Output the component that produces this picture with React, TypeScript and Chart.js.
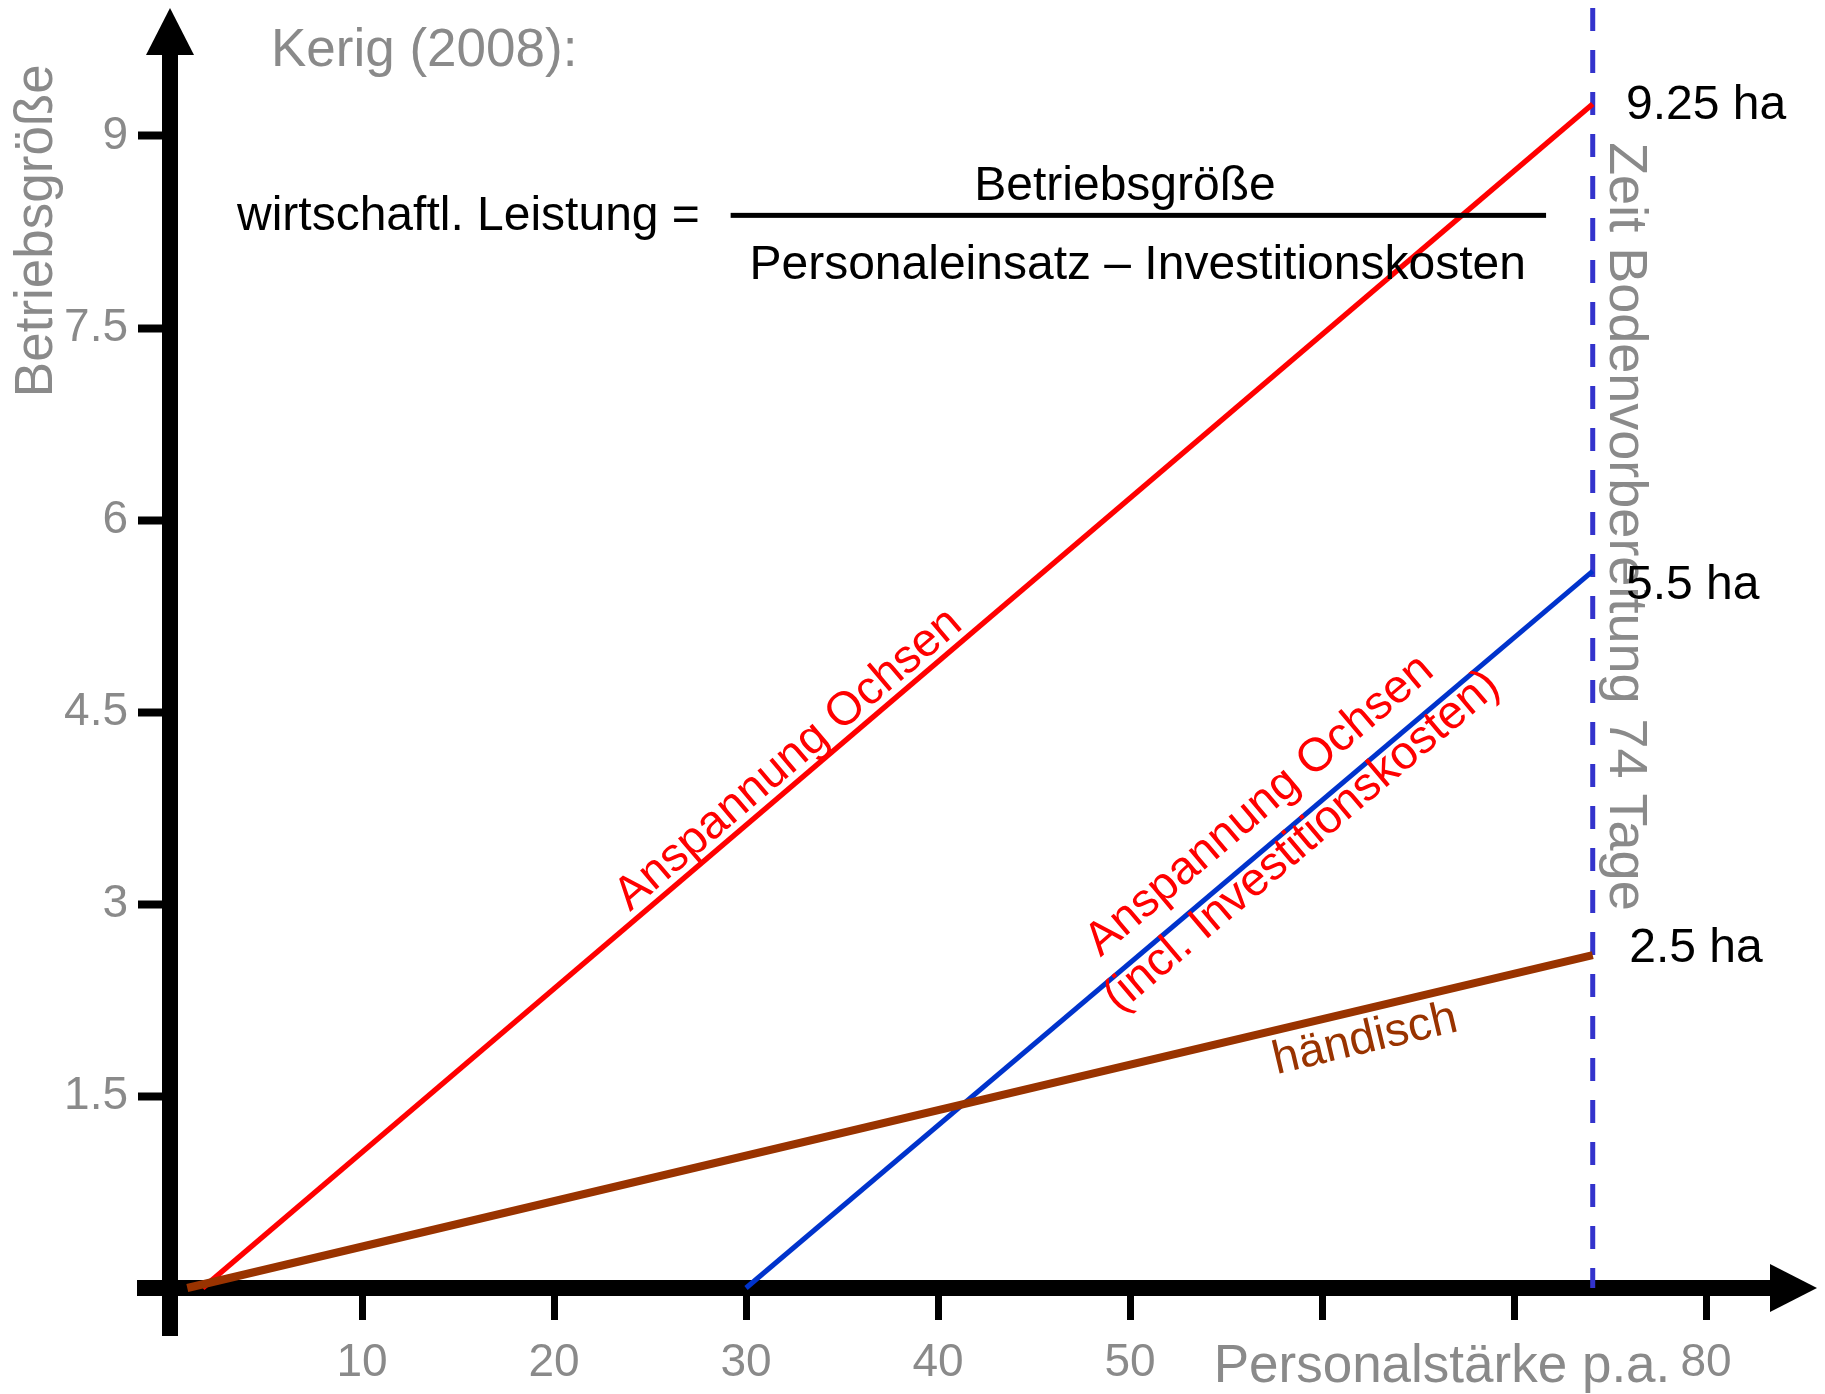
import { useEffect, useRef } from 'react';
import { Chart, registerables } from 'chart.js';

Chart.register(...registerables);

// ---- axis ranges & ticks ----
const X_MIN = 0;
const X_MAX = 85;
const Y_MIN = 0;
const Y_MAX = 10;
const xTickValues = [10, 20, 30, 40, 50, 60, 70, 80];
const xTickLabels = ['10', '20', '30', '40', '50', '', '', '80'];
const yTickValues = [1.5, 3, 4.5, 6, 7.5, 9];
const yTickLabels = ['1.5', '3', '4.5', '6', '7.5', '9'];

// ---- series ----
const haendischX = [0.9, 74.1];
const haendischY = [0, 2.6];
const ochsenX = [1.7, 74.1];
const ochsenY = [0, 9.25];
const investX = [30, 74.1];
const investY = [0, 5.6];
const grenzeX = [74.1, 74.1];
const grenzeY = [10, 0];

const endLabels = ['9.25 ha', '5.5 ha', '2.5 ha'];

const FONT = '"Liberation Sans", Arial, Helvetica, sans-serif';
const GRAY = '#8a8a8a';

const toPts = (xs: number[], ys: number[]) => xs.map((x, i) => ({ x, y: ys[i] }));

type Ann = {
  text: string;
  x: number;
  y: number;
  color: string;
  size: number;
  align: CanvasTextAlign;
  baseline: CanvasTextBaseline;
  rot?: number; // degrees
  along?: [number[], number[]]; // rotate along series
};

const annotations: Ann[] = [
  { text: 'Kerig (2008):', x: 5.26, y: 9.66, color: GRAY, size: 53, align: 'left', baseline: 'middle' },
  { text: 'wirtschaftl. Leistung =', x: 3.49, y: 8.37, color: '#000', size: 48, align: 'left', baseline: 'middle' },
  { text: 'Betriebsgröße', x: 49.74, y: 8.6, color: '#000', size: 48, align: 'center', baseline: 'middle' },
  { text: 'Personaleinsatz – Investitionskosten', x: 50.4, y: 7.99, color: '#000', size: 48, align: 'center', baseline: 'middle' },
  { text: 'Betriebsgröße', x: -6.93, y: 8.26, color: GRAY, size: 53, align: 'center', baseline: 'middle', rot: -90 },
  { text: 'Personalstärke p.a.', x: 66.25, y: -0.62, color: GRAY, size: 53, align: 'center', baseline: 'middle' },
  { text: 'Zeit Bodenvorbereitung 74 Tage', x: 75.8, y: 5.95, color: GRAY, size: 54, align: 'center', baseline: 'middle', rot: 90 },
  { text: 'Anspannung Ochsen', x: 32.66, y: 4.05, color: '#ff0000', size: 47, align: 'center', baseline: 'alphabetic', along: [ochsenX, ochsenY] },
  { text: 'Anspannung Ochsen', x: 57.19, y: 3.69, color: '#ff0000', size: 47, align: 'center', baseline: 'alphabetic', along: [investX, investY] },
  { text: '(incl. Investitionskosten)', x: 59.4, y: 3.41, color: '#ff0000', size: 47, align: 'center', baseline: 'alphabetic', along: [investX, investY] },
  { text: 'händisch', x: 62.4, y: 1.84, color: '#993300', size: 47, align: 'center', baseline: 'alphabetic', along: [haendischX, haendischY] },
  { text: endLabels[0], x: 75.83, y: 9.24, color: '#000', size: 48, align: 'left', baseline: 'middle' },
  { text: endLabels[1], x: 75.83, y: 5.49, color: '#000', size: 48, align: 'left', baseline: 'middle' },
  { text: endLabels[2], x: 76.0, y: 2.65, color: '#000', size: 48, align: 'left', baseline: 'middle' },
];

const axesPlugin = {
  id: 'arrowAxes',
  beforeDatasetsDraw(chart: any) {
    const { ctx, scales } = chart;
    const xs = scales.x;
    const ys = scales.y;
    const x0 = xs.getPixelForValue(0);
    const y0 = ys.getPixelForValue(0);
    const yTop = ys.getPixelForValue(Y_MAX);
    const xEnd = chart.chartArea.right + 15;
    const w = 16;
    const head = 47;
    const half = 24;
    ctx.save();
    ctx.fillStyle = '#000';
    // y axis
    ctx.fillRect(x0 - w / 2, yTop + head - 1, w, y0 + 48 - (yTop + head - 1));
    ctx.beginPath();
    ctx.moveTo(x0, yTop);
    ctx.lineTo(x0 + half, yTop + head);
    ctx.lineTo(x0 - half, yTop + head);
    ctx.closePath();
    ctx.fill();
    // x axis
    ctx.fillRect(x0 - 33, y0 - w / 2, xEnd - head + 1 - (x0 - 33), w);
    ctx.beginPath();
    ctx.moveTo(xEnd, y0);
    ctx.lineTo(xEnd - head, y0 - half);
    ctx.lineTo(xEnd - head, y0 + half);
    ctx.closePath();
    ctx.fill();
    ctx.restore();
  },
};

const textPlugin = {
  id: 'texts',
  afterDraw(chart: any) {
    const { ctx, scales } = chart;
    const px = (v: number) => scales.x.getPixelForValue(v);
    const py = (v: number) => scales.y.getPixelForValue(v);
    ctx.save();
    // fraction bar
    ctx.fillStyle = '#000';
    const fy = py(8.38);
    ctx.fillRect(px(29.2), fy - 2.5, px(71.67) - px(29.2), 5);
    for (const a of annotations) {
      ctx.save();
      ctx.translate(px(a.x), py(a.y));
      let ang = 0;
      if (a.rot !== undefined) ang = (a.rot * Math.PI) / 180;
      if (a.along) {
        const [sx, sy] = a.along;
        ang = Math.atan2(py(sy[1]) - py(sy[0]), px(sx[1]) - px(sx[0]));
      }
      ctx.rotate(ang);
      ctx.font = `${a.size}px ${FONT}`;
      ctx.fillStyle = a.color;
      ctx.textAlign = a.align;
      ctx.textBaseline = a.baseline;
      ctx.fillText(a.text, 0, 0);
      ctx.restore();
    }
    ctx.restore();
  },
};

export default function App() {
  const ref = useRef<HTMLCanvasElement | null>(null);
  useEffect(() => {
    if (!ref.current) return;
    const line = (data: any[], color: string, width: number, dash: number[] = []) => ({
      data,
      borderColor: color,
      backgroundColor: color,
      borderWidth: width,
      borderDash: dash,
      showLine: true,
      pointRadius: 0,
      pointHoverRadius: 0,
      fill: false,
      tension: 0,
      clip: false as any,
    });
    const chart = new Chart(ref.current, {
      type: 'scatter',
      data: {
        datasets: [
          line(toPts(haendischX, haendischY), '#993300', 8),
          line(toPts(ochsenX, ochsenY), '#ff0000', 5.5),
          line(toPts(investX, investY), '#0033cc', 5),
          line(toPts(grenzeX, grenzeY), '#3333cc', 5, [23, 19]),
        ],
      },
      options: {
        responsive: false,
        animation: false,
        events: [],
        layout: { padding: { left: 0, top: 8, right: 23, bottom: 0 } },
        plugins: { legend: { display: false }, tooltip: { enabled: false }, title: { display: false } },
        scales: {
          x: {
            type: 'linear',
            min: X_MIN,
            max: X_MAX,
            border: { display: false },
            grid: { display: true, drawOnChartArea: false, drawTicks: true, tickLength: 32, tickWidth: 7, tickColor: '#000', color: '#000' },
            afterBuildTicks: (s: any) => { s.ticks = xTickValues.map((v) => ({ value: v })); },
            afterFit: (s: any) => { s.height = 106; s.paddingLeft = 0; s.paddingRight = 0; },
            ticks: {
              autoSkip: false,
              maxRotation: 0,
              padding: 16,
              color: GRAY,
              font: { family: FONT, size: 46 },
              callback: (v: any) => { const i = xTickValues.indexOf(Number(v)); return i >= 0 ? xTickLabels[i] : ''; },
            },
          },
          y: {
            type: 'linear',
            min: Y_MIN,
            max: Y_MAX,
            border: { display: false },
            grid: { display: true, drawOnChartArea: false, drawTicks: true, tickLength: 32, tickWidth: 8, tickColor: '#000', color: '#000' },
            afterBuildTicks: (s: any) => { s.ticks = yTickValues.map((v) => ({ value: v })); },
            afterFit: (s: any) => { s.width = 170; s.paddingTop = 0; s.paddingBottom = 0; },
            ticks: {
              autoSkip: false,
              padding: 10,
              color: GRAY,
              font: { family: FONT, size: 46 },
              callback: (v: any) => { const i = yTickValues.indexOf(Number(v)); return i >= 0 ? yTickLabels[i] : ''; },
            },
          },
        },
      },
      plugins: [axesPlugin, textPlugin],
    } as any);
    return () => chart.destroy();
  }, []);
  return (
    <div style={{ position: 'absolute', left: 0, top: 0, width: 1825, height: 1394, background: '#fff' }}>
      <canvas ref={ref} width={1825} height={1394} style={{ display: 'block', width: 1825, height: 1394 }} />
    </div>
  );
}
